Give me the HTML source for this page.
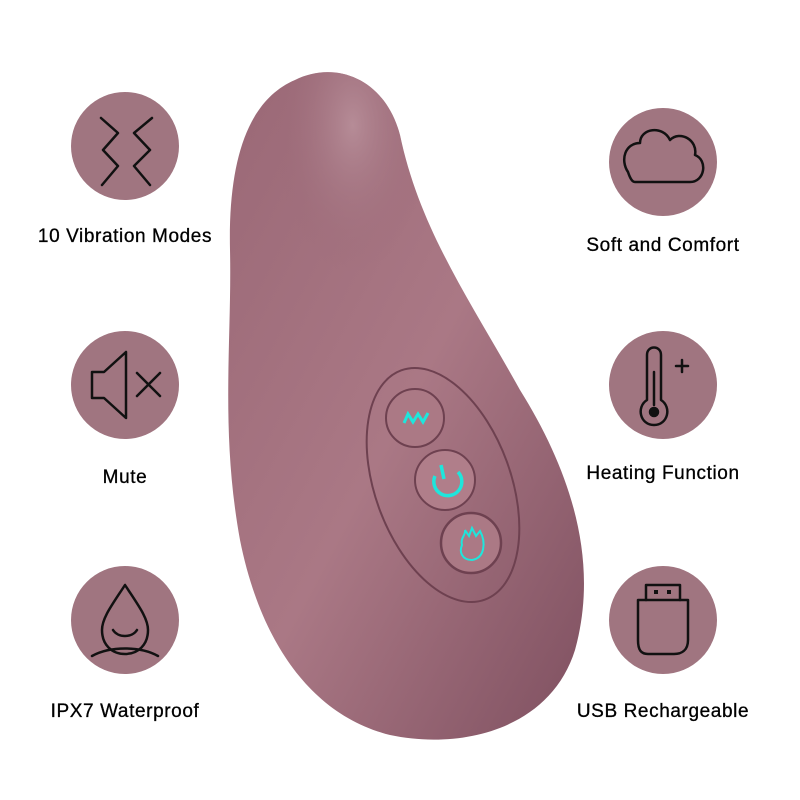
<!DOCTYPE html>
<html><head><meta charset="utf-8"><style>
html,body{margin:0;padding:0;background:#fff;}
body{width:800px;height:800px;position:relative;overflow:hidden;font-family:"Liberation Sans",sans-serif;}
.lbl{position:absolute;width:260px;text-align:center;font-size:19px;color:#000;letter-spacing:0.6px;-webkit-text-stroke:0.3px #000;}
</style></head><body>
<svg width="800" height="800" style="position:absolute;left:0;top:0">
<defs>
<linearGradient id="g" x1="0" y1="0" x2="1" y2="1">
<stop offset="0" stop-color="#9a6876"/>
<stop offset="0.5" stop-color="#aa7885"/>
<stop offset="1" stop-color="#7f5060"/>
</linearGradient>
<radialGradient id="h" cx="0.35" cy="0.08" r="0.22">
<stop offset="0" stop-color="#b68c97"/><stop offset="1" stop-color="#9a6876" stop-opacity="0"/>
</radialGradient>
</defs>
<path id="d" d="M295,80 C335,60 385,78 400,135 C420,230 470,300 520,390 C570,470 600,560 575,650 C550,730 460,750 390,735 C310,715 260,640 240,540 C220,430 232,340 230,250 C228,160 248,100 295,80 Z" fill="url(#g)"/>
<path d="M295,80 C335,60 385,78 400,135 C420,230 470,300 520,390 C570,470 600,560 575,650 C550,730 460,750 390,735 C310,715 260,640 240,540 C220,430 232,340 230,250 C228,160 248,100 295,80 Z" fill="url(#h)"/>
<ellipse cx="443" cy="485" rx="68" ry="122" transform="rotate(-20 443 485)" fill="none" stroke="#6e4150" stroke-width="2"/>
<circle cx="415" cy="418" r="29" fill="#ab7985" stroke="#6e4150" stroke-width="2"/>
<circle cx="445" cy="480" r="30" fill="#b07e8a" stroke="#6e4150" stroke-width="2"/>
<circle cx="471" cy="543" r="30" fill="#ab7985" stroke="#6e4150" stroke-width="2.5"/>
<polyline points="404,423 408,414 413,422 418,414 423,422 428,413" fill="none" stroke="#1ee6dc" stroke-width="3"/>
<path d="M435,476 A14,14 0 1 0 458,472" fill="none" stroke="#1ee6dc" stroke-width="3.5"/>
<line x1="441" y1="465" x2="444" y2="479" stroke="#1ee6dc" stroke-width="3.5"/>
<path d="M462,545 C460,538 466,535 465,530 L469,536 L472,528 L476,536 L480,531 C486,542 485,558 472,560 C462,560 459,552 462,545 Z" fill="none" stroke="#1ee6dc" stroke-width="2"/>
<g fill="#a07580">
<circle cx="125" cy="146" r="54"/><circle cx="125" cy="385" r="54"/><circle cx="125" cy="620" r="54"/>
<circle cx="663" cy="162" r="54"/><circle cx="663" cy="385" r="54"/><circle cx="663" cy="620" r="54"/>
</g>
<g fill="none" stroke="#111" stroke-width="2.5" stroke-linejoin="round" stroke-linecap="round">
<polyline points="101,118 118,133 103,150 118,166 102,185"/>
<polyline points="152,118 134,133 150,150 134,166 150,185"/>
<path d="M92,372 L104,372 L126,352 L126,418 L104,398 L92,398 Z"/>
<line x1="137" y1="373" x2="160" y2="396"/><line x1="160" y1="373" x2="137" y2="396"/>
<path d="M125,585 C112,605 102,618 102,630 C102,645 112,654 125,654 C138,654 148,645 148,630 C148,618 138,605 125,585 Z"/>
<path d="M113,630 C118,638 132,638 137,630"/>
<path d="M92,656 C110,646 140,646 158,656"/>
<path d="M635,182 L690,182 C705,182 708,160 695,155 C698,140 680,130 670,140 C663,125 640,128 640,143 C625,143 620,160 628,172 C630,178 632,182 635,182 Z"/>
<path d="M647,400 L647,355 C647,345 661,345 661,355 L661,400 C672,407 668,425 654,425 C640,425 636,407 647,400 Z"/>
<line x1="654" y1="372" x2="654" y2="405"/>
<circle cx="654" cy="412" r="4" fill="#111"/>
<line x1="676" y1="366" x2="688" y2="366"/><line x1="682" y1="360" x2="682" y2="372"/>
<path d="M646,600 L646,585 L680,585 L680,600"/>
<path d="M638,600 L688,600 L688,640 C688,650 682,654 674,654 L648,654 C641,654 638,650 638,640 Z"/>
<rect x="654" y="590" width="4" height="4" fill="#111" stroke="none"/><rect x="667" y="590" width="4" height="4" fill="#111" stroke="none"/>
</g>
</svg>
<div class="lbl" style="left:-5px;top:226px">10 Vibration Modes</div>
<div class="lbl" style="left:-5px;top:467px">Mute</div>
<div class="lbl" style="left:-5px;top:701px">IPX7 Waterproof</div>
<div class="lbl" style="left:533px;top:235px">Soft and Comfort</div>
<div class="lbl" style="left:533px;top:463px">Heating Function</div>
<div class="lbl" style="left:533px;top:701px">USB Rechargeable</div>
</body></html>
